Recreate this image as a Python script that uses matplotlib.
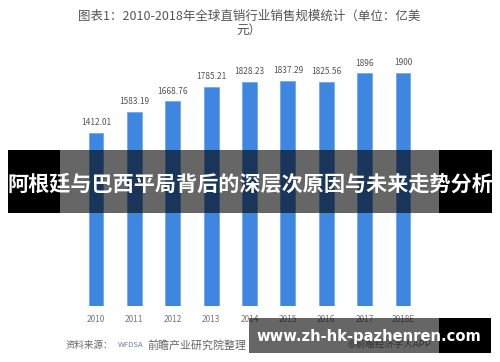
import matplotlib
matplotlib.use("Agg")
import matplotlib.pyplot as plt
from matplotlib.patches import Rectangle

plt.rcParams['font.family'] = ['Noto Sans CJK SC', 'DejaVu Sans']

# ======= ДАННЫЕ =======
years = ['2010', '2011', '2012', '2013', '2014', '2015', '2016', '2017', '2018E']
sales = [1412.01, 1583.19, 1668.76, 1785.21, 1828.23, 1837.29, 1825.56, 1896, 1900]
value_labels = ['1412.01', '1583.19', '1668.76', '1785.21', '1828.23',
                '1837.29', '1825.56', '1896', '1900']

W, H = 500, 362
fig = plt.figure(figsize=(W / 100, H / 100), dpi=100)

# оси: центры столбцов 96..403 px, база на 306 px
ax = fig.add_axes([76.8 / W, (H - 306) / H, 345.4 / W, 245.4 / H])
x = range(len(years))
ax.bar(x, sales, width=0.39, color='#3f86e0', edgecolor='#6aa3ea', linewidth=0.5)
ax.set_xlim(-0.5, len(years) - 0.5)
ax.set_ylim(0, 2000)
for i, v in enumerate(sales):
    ax.annotate(value_labels[i], (i, v), xytext=(0, 4), textcoords='offset points',
                ha='center', va='bottom', fontsize=6, color='#555555')
ax.set_xticks(list(x))
ax.set_xticklabels(years, fontsize=6, color='#777777')
ax.tick_params(axis='x', length=0, pad=6.5)
ax.set_yticks([])
for s in ax.spines.values():
    s.set_visible(False)

# заголовок
fig.text(249 / W, 1 - 16 / H, '图表1：2010-2018年全球直销行业销售规模统计（单位：亿美',
         ha='center', va='center', fontsize=9, color='#555555')
fig.text(249 / W, 1 - 30 / H, '元）', ha='center', va='center', fontsize=9, color='#555555')

# источник
fig.text(66 / W, 1 - 345 / H, '资料来源：', ha='left', va='center', fontsize=6.8, color='#666666')
fig.text(118 / W, 1 - 345 / H, 'WFDSA', ha='left', va='center', fontsize=5.6, color='#6f7f9a')
fig.text(147 / W, 1 - 345 / H, '前瞻产业研究院整理', ha='left', va='center', fontsize=7.9, color='#666666')
fig.text(348 / W, 1 - 344 / H, '@前瞻经济学人APP', ha='left', va='center', fontsize=6.8, color='#777777')


def band(x0, x1, y0, y1, color, alpha=1.0):
    fig.patches.append(Rectangle((x0 / W, 1 - y1 / H), (x1 - x0) / W, (y1 - y0) / H,
                                 transform=fig.transFigure, facecolor=color,
                                 alpha=alpha, edgecolor='none', zorder=5))


# верхняя плашка
band(8, 60, 150, 213, 'black')
band(60, 439, 150, 213, 'black', 0.6)
band(439, 492, 150, 213, 'black')
fig.text(250 / W, 1 - 184 / H, '阿根廷与巴西平局背后的深层次原因与未来走势分析',
         ha='center', va='center', fontsize=15.2, fontweight='bold', color='white', zorder=6)

# нижняя плашка
band(249, 439, 318, 353, 'black', 0.6)
band(439, 491, 318, 353, 'black')
fig.text(369 / W, 1 - 336 / H, 'www.zh-hk-pazhenren.com', ha='center', va='center',
         fontsize=10.6, fontweight='bold', color='white', family=['DejaVu Sans'], zorder=6)

fig.savefig('out.png', dpi=100)
